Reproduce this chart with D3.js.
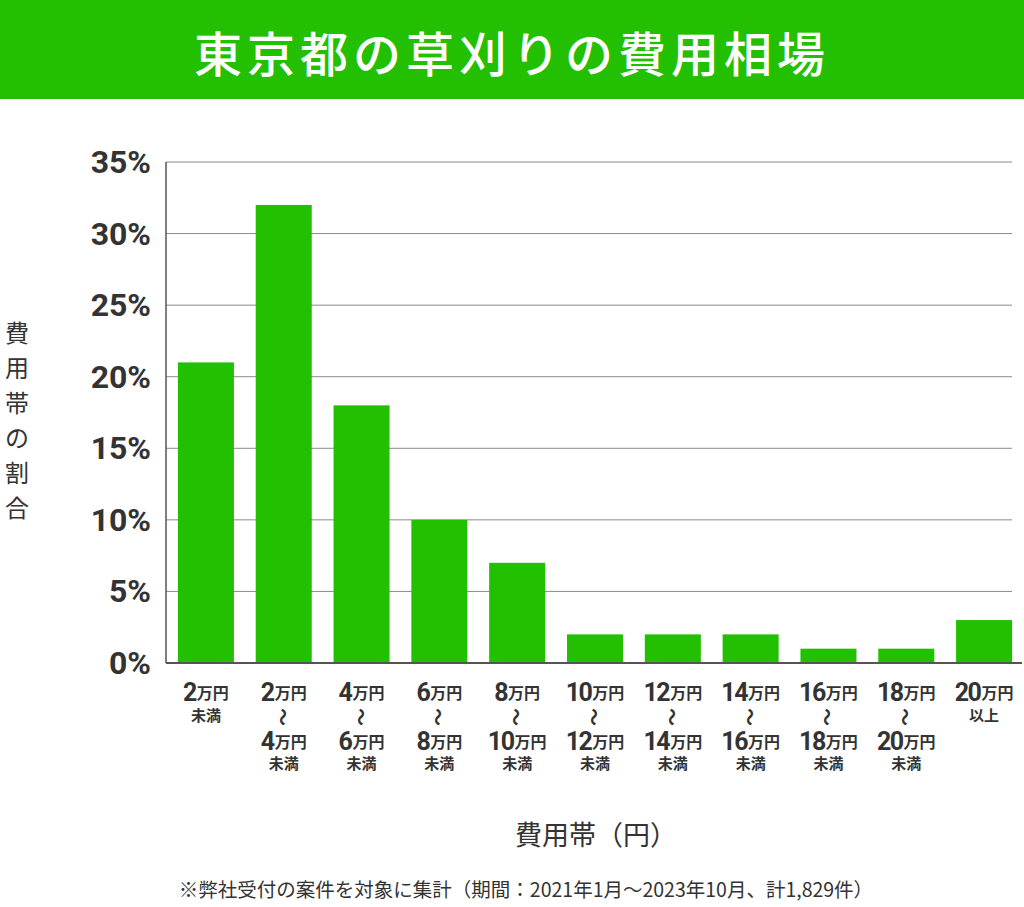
<!DOCTYPE html>
<html>
<head>
<meta charset="utf-8">
<script src="https://cdn.jsdelivr.net/npm/d3@7"></script>
<style>
  body { margin: 0; background: #fff; }
  svg { display: block; font-family: "Noto Sans CJK JP", "Noto Sans", sans-serif; }
</style>
</head>
<body>
<div id="chart"></div>
<script>
const title = "東京都の草刈りの費用相場";
const lowerBounds = ["2", "2", "4", "6", "8", "10", "12", "14", "16", "18", "20"];
const upperBounds = [null, "4", "6", "8", "10", "12", "14", "16", "18", "20", null];
const suffixes = ["未満", "未満", "未満", "未満", "未満", "未満", "未満", "未満", "未満", "未満", "以上"];
const shares = [21, 32, 18, 10, 7, 2, 2, 2, 1, 1, 3];
const yTicks = [0, 5, 10, 15, 20, 25, 30, 35];
const yLabel = "費用帯の割合";
const xLabel = "費用帯（円）";
const note = "※弊社受付の案件を対象に集計（期間：2021年1月～2023年10月、計1,829件）";

const width = 1024, height = 907;
const green = "#22c000";
const textColor = "#333";

const svg = d3.select("#chart").append("svg")
  .attr("width", width)
  .attr("height", height);

// title banner
svg.append("rect")
  .attr("x", 0).attr("y", 0)
  .attr("width", width).attr("height", 99)
  .attr("fill", green);

svg.append("text")
  .attr("x", width / 2).attr("y", 51)
  .attr("text-anchor", "middle")
  .attr("dominant-baseline", "central")
  .attr("fill", "#fff")
  .attr("font-size", 48)
  .attr("font-weight", 500)
  .attr("letter-spacing", 5)
  .text(title);

const x = d3.scaleBand()
  .domain(shares.map((_, i) => i))
  .range([167, 1023])
  .paddingInner(0.28)
  .paddingOuter(0.14);

const y = d3.scaleLinear()
  .domain([0, 35])
  .range([663, 162]);

const axisLeft = 166, gridRight = 1012;

// grid lines
svg.append("g")
  .selectAll("line")
  .data(yTicks.filter(d => d > 0))
  .join("line")
  .attr("x1", axisLeft).attr("x2", gridRight)
  .attr("y1", d => y(d)).attr("y2", d => y(d))
  .attr("stroke", "#8a8a8a")
  .attr("stroke-width", 1);

// bars
svg.append("g")
  .selectAll("rect")
  .data(shares)
  .join("rect")
  .attr("x", (_, i) => x(i))
  .attr("y", d => y(d))
  .attr("width", x.bandwidth())
  .attr("height", d => y(0) - y(d))
  .attr("fill", green);

// axis lines
svg.append("line")
  .attr("x1", axisLeft).attr("x2", axisLeft)
  .attr("y1", y(35)).attr("y2", y(0))
  .attr("stroke", "#555").attr("stroke-width", 1.5);
svg.append("line")
  .attr("x1", axisLeft).attr("x2", 1022)
  .attr("y1", y(0)).attr("y2", y(0))
  .attr("stroke", "#555").attr("stroke-width", 2);

// y tick labels
svg.append("g")
  .selectAll("text")
  .data(yTicks)
  .join("text")
  .attr("x", 151)
  .attr("y", d => y(d))
  .attr("text-anchor", "end")
  .attr("dominant-baseline", "central")
  .attr("fill", textColor)
  .attr("font-family", "Roboto, 'Noto Sans', sans-serif")
  .attr("font-size", 32)
  .attr("font-weight", 700)
  .text(d => d + "%");

// y axis title, one character per line
svg.append("g")
  .selectAll("text")
  .data(Array.from(yLabel))
  .join("text")
  .attr("x", 17)
  .attr("y", (_, i) => 331 + i * 35)
  .attr("text-anchor", "middle")
  .attr("dominant-baseline", "central")
  .attr("fill", textColor)
  .attr("font-size", 24)
  .text(d => d);

// x tick labels
const numFont = "Roboto, 'Noto Sans', sans-serif";
const ticks = svg.append("g").selectAll("g")
  .data(shares.map((_, i) => i))
  .join("g")
  .attr("transform", i => `translate(${x(i) + x.bandwidth() / 2},0)`);

function amount(g, num, yy) {
  const t = g.append("text")
    .attr("y", yy)
    .attr("text-anchor", "middle")
    .attr("dominant-baseline", "central")
    .attr("fill", textColor)
    .attr("font-weight", 700);
  t.append("tspan").attr("font-family", numFont).attr("font-size", 25)
    .attr("letter-spacing", -1.5).text(num);
  t.append("tspan").attr("font-size", 16).attr("dx", 1).text("万円");
}

ticks.each(function (i) {
  const g = d3.select(this);
  amount(g, lowerBounds[i], 692);
  let suffixY = 714;
  if (upperBounds[i] !== null) {
    g.append("text")
      .attr("transform", "translate(0,717) rotate(90)")
      .attr("text-anchor", "middle")
      .attr("dominant-baseline", "central")
      .attr("fill", textColor)
      .attr("font-size", 18)
      .attr("font-weight", 700)
      .text("〜");
    amount(g, upperBounds[i], 741);
    suffixY = 762;
  }
  g.append("text")
    .attr("y", suffixY)
    .attr("text-anchor", "middle")
    .attr("dominant-baseline", "central")
    .attr("fill", textColor)
    .attr("font-size", 15)
    .attr("font-weight", 700)
    .text(suffixes[i]);
});

// x axis title
svg.append("text")
  .attr("x", 596).attr("y", 833)
  .attr("text-anchor", "middle")
  .attr("dominant-baseline", "central")
  .attr("fill", textColor)
  .attr("font-size", 27)
  .text(xLabel);

// footnote
svg.append("text")
  .attr("x", 526).attr("y", 888)
  .attr("text-anchor", "middle")
  .attr("dominant-baseline", "central")
  .attr("fill", textColor)
  .attr("font-size", 19.5)
  .text(note);
</script>
</body>
</html>
